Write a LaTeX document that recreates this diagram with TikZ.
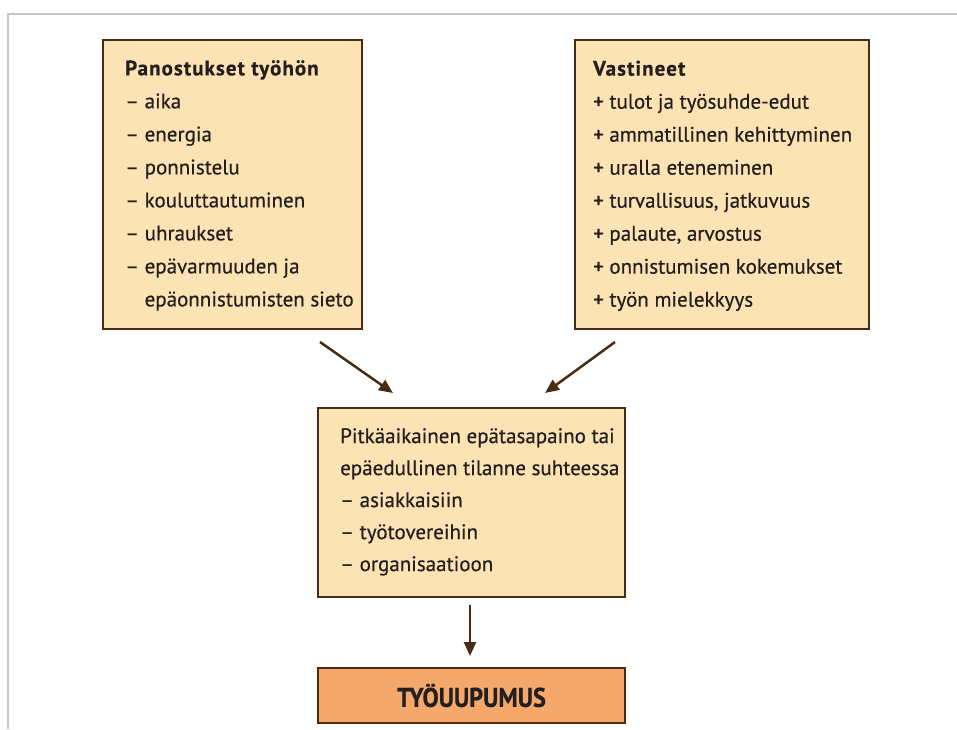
\documentclass[tikz,border=0pt]{standalone}
\usepackage{fontspec}
\setmainfont{PT Sans}[FakeBold=0.5]
\usetikzlibrary{arrows.meta}
\definecolor{boxfill}{HTML}{FCE3B4}
\definecolor{endfill}{HTML}{F4A86B}
\definecolor{boxline}{HTML}{4A2C14}
\definecolor{framegray}{HTML}{C6C6C6}
\definecolor{ink}{HTML}{231F20}
\newcommand{\boxtitle}[1]{{\bfseries\addfontfeatures{LetterSpace=5}#1}}
\begin{document}
\begin{tikzpicture}[x=1pt,y=-1pt,
  boxnode/.style={draw=boxline, line width=2.5pt, fill=boxfill, inner sep=0pt},
  txt/.style={anchor=north west, align=left, inner sep=0pt, text=ink, font=\fontsize{21}{33}\selectfont},
  arr/.style={draw=boxline, line width=2.5pt, -{Triangle[length=14pt,width=12pt]}}]
\useasboundingbox (0,0) rectangle (957,729);
% frame
\draw[framegray, line width=2pt] (957,13.5) -- (8,13.5) -- (8,729);
% boxes
\node[boxnode, minimum width=259pt, minimum height=289pt] (panos) at (232.5,184.5) {};
\node[boxnode, minimum width=294pt, minimum height=289pt] (vast) at (722,184.5) {};
\node[boxnode, minimum width=307pt, minimum height=189pt] (epa) at (471.5,502.5) {};
\node[boxnode, fill=endfill, minimum width=307pt, minimum height=55pt, text=ink, font=\fontsize{27}{30}\selectfont\bfseries\addfontfeatures{FakeStretch=0.9}] (tyo) at (471.5,695.5) {TYÖUUPUMUS};
% texts
\node[txt] (panostxt) at (125,60) {\boxtitle{Panostukset työhön}\\– aika\\– energia\\– ponnistelu\\– kouluttautuminen\\– uhraukset\\– epävarmuuden ja\\\phantom{– }epäonnistumisten sieto};
\node[txt] (vasttxt) at (593,60.5) {\boxtitle{Vastineet}\\+ tulot ja työsuhde-edut\\+ ammatillinen kehittyminen\\+ uralla eteneminen\\+ turvallisuus, jatkuvuus\\+ palaute, arvostus\\+ onnistumisen kokemukset\\+ työn mielekkyys};
\node[txt, font=\fontsize{21}{32}\selectfont] (epatxt) at (340,428) {Pitkäaikainen epätasapaino tai\\epäedullinen tilanne suhteessa\\– asiakkaisiin\\– työtovereihin\\– organisaatioon};
% arrows
\coordinate (a1s) at (320,342);
\coordinate (a1e) at (393,393);
\coordinate (a2s) at (615,342);
\coordinate (a2e) at (545,393);
\coordinate (a3s) at (470,605);
\coordinate (a3e) at (470,656);
\draw[arr] (a1s) -- (a1e);
\draw[arr] (a2s) -- (a2e);
\draw[arr] (a3s) -- (a3e);
\end{tikzpicture}
\end{document}
